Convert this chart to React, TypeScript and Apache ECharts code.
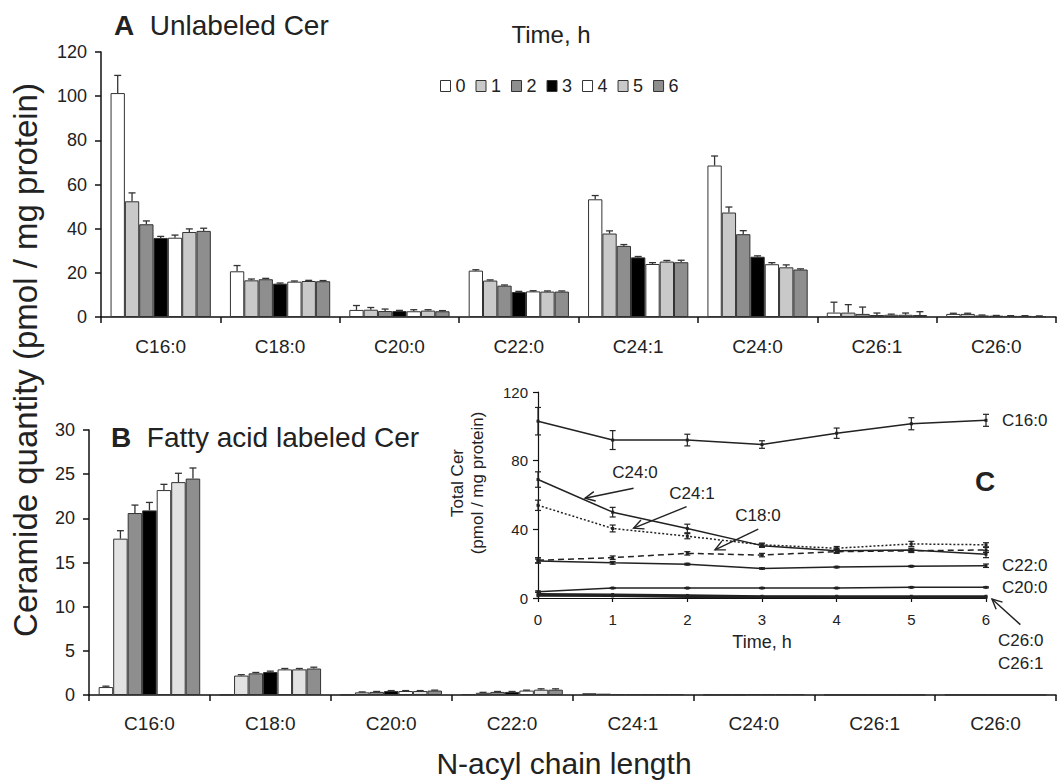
import React, { useEffect, useRef } from "react";
import * as echarts from "echarts";

const FONT = "'Liberation Sans', Arial, sans-serif";

const categories = ["C16:0", "C18:0", "C20:0", "C22:0", "C24:1", "C24:0", "C26:1", "C26:0"];
const timeNames = ["0", "1", "2", "3", "4", "5", "6"];

// Panel A: unlabeled Cer, one array per time point (order = categories)
const unlabeled0 = [101.4, 20.7, 3.2, 21.0, 53.3, 68.6, 2.0, 1.4];
const unlabeled1 = [52.4, 16.6, 3.3, 16.5, 37.8, 47.3, 2.0, 1.4];
const unlabeled2 = [42.0, 17.1, 2.7, 14.2, 32.2, 37.5, 1.4, 0.7];
const unlabeled3 = [35.8, 15.1, 2.7, 11.3, 27.0, 27.3, 0.9, 0.6];
const unlabeled4 = [35.9, 16.0, 2.6, 11.6, 24.0, 23.9, 1.0, 0.5];
const unlabeled5 = [38.5, 16.3, 2.9, 11.5, 25.1, 22.5, 1.0, 0.5];
const unlabeled6 = [39.0, 16.2, 2.6, 11.5, 24.8, 21.5, 0.9, 0.4];
const unlabeledErr0 = [8.0, 2.6, 2.0, 0.4, 1.7, 4.3, 4.7, 0.3];
const unlabeledErr1 = [3.8, 0.6, 1.0, 0.3, 1.2, 2.5, 3.6, 0.3];
const unlabeledErr2 = [1.5, 0.4, 0.9, 0.3, 0.6, 1.6, 3.1, 0.2];
const unlabeledErr3 = [0.7, 0.3, 0.3, 0.3, 0.4, 0.4, 0.9, 0.1];
const unlabeledErr4 = [1.2, 0.3, 0.7, 0.3, 0.6, 0.7, 0.3, 0.1];
const unlabeledErr5 = [1.4, 0.3, 0.4, 0.3, 0.5, 1.1, 0.8, 0.1];
const unlabeledErr6 = [1.2, 0.3, 0.3, 0.3, 0.9, 0.3, 1.5, 0.1];

// Panel B: fatty acid labeled Cer
const labeled0 = [0.9, 0.05, 0.05, 0.1, 0.2, 0.05, 0.03, 0.03];
const labeled1 = [17.7, 2.2, 0.3, 0.25, 0.15, 0.05, 0.03, 0.03];
const labeled2 = [20.6, 2.45, 0.35, 0.35, 0.1, 0.05, 0.03, 0.03];
const labeled3 = [20.9, 2.6, 0.45, 0.35, 0.1, 0.1, 0.03, 0.03];
const labeled4 = [23.2, 2.9, 0.45, 0.5, 0.1, 0.1, 0.03, 0.03];
const labeled5 = [24.1, 2.9, 0.45, 0.6, 0.1, 0.1, 0.03, 0.03];
const labeled6 = [24.5, 3.0, 0.5, 0.6, 0.1, 0.1, 0.03, 0.03];
const labeledErr0 = [0.1, 0, 0, 0, 0, 0, 0, 0];
const labeledErr1 = [0.9, 0.1, 0.05, 0.05, 0, 0, 0, 0];
const labeledErr2 = [0.9, 0.1, 0.05, 0.05, 0, 0, 0, 0];
const labeledErr3 = [0.9, 0.1, 0.05, 0.05, 0, 0, 0, 0];
const labeledErr4 = [0.65, 0.1, 0.05, 0.05, 0, 0, 0, 0];
const labeledErr5 = [1.0, 0.1, 0.05, 0.1, 0, 0, 0, 0];
const labeledErr6 = [1.2, 0.15, 0.05, 0.1, 0, 0, 0, 0];

// Panel C: total Cer vs time
const hours = [0, 1, 2, 3, 4, 5, 6];
const totalC16 = [103, 92, 92, 89.4, 96, 101.5, 103.5];
const totalC16Err = [8, 5.5, 3.4, 2.2, 3, 3.5, 3.5];
const totalC24_0 = [69, 50, 40.5, 30.5, 27.5, 28, 25.5];
const totalC24_0Err = [4.5, 2.8, 2.5, 1, 1, 1, 2];
const totalC24_1 = [54, 40.5, 36, 31, 29, 31.5, 31];
const totalC24_1Err = [3, 2, 1.5, 1, 1, 1.5, 1.2];
const totalC18 = [22, 23.5, 26, 25, 27, 27.5, 28];
const totalC18Err = [1.5, 1, 1, 1, 1, 1, 1.5];
const totalC22 = [21.5, 20.5, 19.7, 17.2, 18, 18.5, 18.8];
const totalC22Err = [1.2, 0.8, 0.5, 0.4, 0.4, 0.4, 1];
const totalC20 = [3.7, 5.8, 5.8, 5.8, 5.8, 6.2, 6.2];
const totalC20Err = [0.4, 0.3, 0.3, 0.3, 0.3, 0.3, 0.3];
const totalC26_1 = [2.3, 2.0, 1.5, 1.0, 1.0, 1.0, 1.0];
const totalC26_0 = [1.3, 1.2, 0.7, 0.6, 0.5, 0.5, 0.4];

// Annotation arrows in panel C data space: [fromX, fromY, toX, toY]
const arrowC24_0 = [1.28, 63.9, 0.63, 58.1];
const arrowC24_1 = [1.99, 53.2, 1.28, 40.7];
const arrowC18 = [2.95, 40.1, 2.37, 28.1];
const arrowC26 = [6.46, -15.5, 6.08, -0.6];

const unlabeled = [unlabeled0, unlabeled1, unlabeled2, unlabeled3, unlabeled4, unlabeled5, unlabeled6];
const unlabeledErr = [unlabeledErr0, unlabeledErr1, unlabeledErr2, unlabeledErr3, unlabeledErr4, unlabeledErr5, unlabeledErr6];
const labeled = [labeled0, labeled1, labeled2, labeled3, labeled4, labeled5, labeled6];
const labeledErr = [labeledErr0, labeledErr1, labeledErr2, labeledErr3, labeledErr4, labeledErr5, labeledErr6];

const colorsA = ["#ffffff", "#c9c9c9", "#8e8e8e", "#000000", "#ffffff", "#c9c9c9", "#8e8e8e"];
const colorsB = ["#ffffff", "#e2e2e2", "#8e8e8e", "#000000", "#ffffff", "#e2e2e2", "#8e8e8e"];
const GAP = 0.16;
const INK = "#222";

function barErrRender(params: any, api: any) {
  const c = api.value(0);
  const s = api.value(1);
  const v = api.value(2);
  const e = api.value(3);
  if (!e) return null;
  const band = api.size([1, 0])[0];
  const bw = (band * (1 - GAP)) / 7;
  const p0 = api.coord([c, v]);
  const p1 = api.coord([c, v + e]);
  const x = p0[0] + (s - 3) * bw;
  const st = { stroke: "#333", lineWidth: 1.3 };
  return {
    type: "group",
    children: [
      { type: "line", shape: { x1: x, y1: p0[1], x2: x, y2: p1[1] }, style: st },
      { type: "line", shape: { x1: x - 3.5, y1: p1[1], x2: x + 3.5, y2: p1[1] }, style: st },
    ],
  };
}

function lineErrRender(params: any, api: any) {
  const t = api.value(0);
  const v = api.value(1);
  const e = api.value(2);
  const lo = api.coord([t, Math.max(0, v - e)]);
  const hi = api.coord([t, v + e]);
  const st = { stroke: "#222", lineWidth: 1.2 };
  return {
    type: "group",
    children: [
      { type: "line", shape: { x1: lo[0], y1: lo[1], x2: hi[0], y2: hi[1] }, style: st },
      { type: "line", shape: { x1: lo[0] - 3, y1: lo[1], x2: lo[0] + 3, y2: lo[1] }, style: st },
      { type: "line", shape: { x1: hi[0] - 3, y1: hi[1], x2: hi[0] + 3, y2: hi[1] }, style: st },
    ],
  };
}

function arrowRender(params: any, api: any) {
  const a = api.coord([api.value(0), api.value(1)]);
  const b = api.coord([api.value(2), api.value(3)]);
  const ang = Math.atan2(a[1] - b[1], a[0] - b[0]);
  const L = 11;
  const d = 0.45;
  const h1 = [b[0] + L * Math.cos(ang + d), b[1] + L * Math.sin(ang + d)];
  const h2 = [b[0] + L * Math.cos(ang - d), b[1] + L * Math.sin(ang - d)];
  const st = { stroke: "#222", lineWidth: 1.4, fill: "none" };
  return {
    type: "group",
    children: [
      { type: "line", shape: { x1: a[0], y1: a[1], x2: b[0], y2: b[1] }, style: st },
      { type: "polyline", shape: { points: [h1, b, h2] }, style: st },
    ],
  };
}

export default function App() {
  const ref = useRef<HTMLDivElement>(null);
  useEffect(() => {
    if (!ref.current) return;
    document.body.style.margin = "0";
    const chart = echarts.init(ref.current, null, { renderer: "svg" });

    const axisLineStyle = { color: "#111", width: 1.5 };
    const series: any[] = [];

    timeNames.forEach((name, s) => {
      series.push({
        name,
        type: "bar",
        xAxisIndex: 0,
        yAxisIndex: 0,
        data: unlabeled[s],
        barGap: "0%",
        barCategoryGap: GAP * 100 + "%",
        itemStyle: { color: colorsA[s], borderColor: "#333", borderWidth: 1 },
      });
    });
    timeNames.forEach((name, s) => {
      series.push({
        name: "B" + name,
        type: "bar",
        xAxisIndex: 1,
        yAxisIndex: 1,
        data: labeled[s],
        barGap: "0%",
        barCategoryGap: GAP * 100 + "%",
        itemStyle: { color: colorsB[s], borderColor: "#333", borderWidth: 1 },
      });
    });

    const errA: number[][] = [];
    const errB: number[][] = [];
    for (let s = 0; s < 7; s++) {
      for (let c = 0; c < categories.length; c++) {
        errA.push([c, s, unlabeled[s][c], unlabeledErr[s][c]]);
        errB.push([c, s, labeled[s][c], labeledErr[s][c]]);
      }
    }
    series.push({ type: "custom", xAxisIndex: 0, yAxisIndex: 0, z: 10, silent: true, renderItem: barErrRender, data: errA });
    series.push({ type: "custom", xAxisIndex: 1, yAxisIndex: 1, z: 10, silent: true, renderItem: barErrRender, data: errB });

    const lineDefs = [
      { name: "C16:0", data: totalC16, err: totalC16Err, type: "solid", end: true },
      { name: "C24:0", data: totalC24_0, err: totalC24_0Err, type: "solid", end: false },
      { name: "C24:1", data: totalC24_1, err: totalC24_1Err, type: [2, 2], end: false },
      { name: "C18:0", data: totalC18, err: totalC18Err, type: [6, 4], end: false },
      { name: "C22:0", data: totalC22, err: totalC22Err, type: "solid", end: true },
      { name: "C20:0", data: totalC20, err: totalC20Err, type: "solid", end: true },
      { name: "C26:1", data: totalC26_1, err: null, type: "solid", end: false },
      { name: "C26:0", data: totalC26_0, err: null, type: "solid", end: false },
    ];
    lineDefs.forEach((d) => {
      series.push({
        name: d.name,
        type: "line",
        xAxisIndex: 2,
        yAxisIndex: 2,
        data: hours.map((h, i) => [h, d.data[i]]),
        symbol: "rect",
        symbolSize: 3,
        itemStyle: { color: "#222" },
        lineStyle: { color: "#222", width: d.name.startsWith("C26") ? 2.2 : 1.5, type: d.type },
        endLabel: d.end
          ? { show: true, formatter: "{a}", distance: 16, fontSize: 17, color: INK, fontFamily: FONT }
          : { show: false },
        z: 5,
      });
      if (d.err) {
        series.push({
          type: "custom",
          xAxisIndex: 2,
          yAxisIndex: 2,
          silent: true,
          z: 6,
          renderItem: lineErrRender,
          data: hours.map((h, i) => [h, d.data[i], d.err![i]]),
        });
      }
    });
    series.push({
      type: "custom",
      xAxisIndex: 2,
      yAxisIndex: 2,
      silent: true,
      z: 7,
      renderItem: arrowRender,
      data: [arrowC24_0, arrowC24_1, arrowC18, arrowC26],
    });

    const catAxis = (grid: number, margin: number) => ({
      type: "category",
      gridIndex: grid,
      data: categories,
      axisLine: { lineStyle: axisLineStyle },
      axisTick: { show: true, length: 6, lineStyle: axisLineStyle },
      axisLabel: { margin, fontSize: 19, color: INK, fontFamily: FONT },
    });
    const valAxis = (grid: number, max: number, interval: number) => ({
      type: "value",
      gridIndex: grid,
      min: 0,
      max,
      interval,
      axisLine: { show: true, lineStyle: axisLineStyle },
      axisTick: { show: true, length: 6, lineStyle: axisLineStyle },
      splitLine: { show: false },
      axisLabel: { margin: 14, fontSize: 18, color: INK, fontFamily: FONT },
    });

    const text = (x: number, y: number, t: string, extra: any = {}) => ({
      type: "text",
      x,
      y,
      silent: true,
      style: { text: t, fill: INK, fontFamily: FONT, fontSize: 18, ...extra },
    });

    chart.setOption({
      animation: false,
      backgroundColor: "#ffffff",
      textStyle: { fontFamily: FONT },
      grid: [
        { left: 101, top: 52, width: 955, height: 265 },
        { left: 89, top: 430, width: 967, height: 265 },
        { left: 538, top: 392, width: 448, height: 206 },
      ],
      legend: {
        data: timeNames,
        left: 440,
        top: 77,
        padding: 0,
        itemWidth: 10,
        itemHeight: 11,
        itemGap: 10,
        icon: "rect",
        itemStyle: { borderColor: "#333", borderWidth: 1 },
        textStyle: { fontSize: 18, color: INK, fontFamily: FONT },
      },
      xAxis: [
        catAxis(0, 20),
        catAxis(1, 19),
        {
          type: "value",
          gridIndex: 2,
          min: 0,
          max: 6,
          interval: 1,
          axisLine: { lineStyle: { color: "#111", width: 1.2 } },
          axisTick: { show: true, length: 4, lineStyle: { color: "#111", width: 1.2 } },
          splitLine: { show: false },
          axisLabel: { margin: 14, fontSize: 15, color: INK, fontFamily: FONT },
        },
      ],
      yAxis: [
        valAxis(0, 120, 20),
        valAxis(1, 30, 5),
        {
          type: "value",
          gridIndex: 2,
          min: 0,
          max: 120,
          interval: 40,
          axisLine: { show: true, lineStyle: { color: "#111", width: 1.2 } },
          axisTick: { show: true, length: 5, lineStyle: { color: "#111", width: 1.2 } },
          splitLine: { show: false },
          axisLabel: { margin: 10, fontSize: 15, color: INK, fontFamily: FONT },
        },
      ],
      series,
      graphic: [
        text(114, 25, "{b|A}  Unlabeled Cer", {
          fontSize: 28,
          verticalAlign: "middle",
          rich: { b: { fontWeight: "bold", fontSize: 28, fontFamily: FONT, fill: INK } },
        }),
        text(111, 437, "{b|B}  Fatty acid labeled Cer", {
          fontSize: 28,
          verticalAlign: "middle",
          rich: { b: { fontWeight: "bold", fontSize: 28, fontFamily: FONT, fill: INK } },
        }),
        text(551, 34, "Time, h", { fontSize: 24, align: "center", verticalAlign: "middle" }),
        {
          type: "text",
          x: 25,
          y: 360,
          rotation: Math.PI / 2,
          silent: true,
          style: {
            text: "Ceramide quantity (pmol / mg protein)",
            fill: INK,
            fontFamily: FONT,
            fontSize: 33,
            align: "center",
            verticalAlign: "middle",
          },
        },
        text(564, 763, "N-acyl chain length", { fontSize: 30, align: "center", verticalAlign: "middle" }),
        {
          type: "text",
          x: 467,
          y: 483,
          rotation: Math.PI / 2,
          silent: true,
          style: {
            text: "Total Cer\n(pmol / mg protein)",
            fill: INK,
            fontFamily: FONT,
            fontSize: 17,
            lineHeight: 20,
            align: "center",
            verticalAlign: "middle",
          },
        },
        text(762, 642, "Time, h", { fontSize: 18, align: "center", verticalAlign: "middle" }),
        text(985, 481, "C", { fontSize: 28, fontWeight: "bold", align: "center", verticalAlign: "middle" }),
        text(635, 472, "C24:0", { fontSize: 17, align: "center", verticalAlign: "middle" }),
        text(692, 493, "C24:1", { fontSize: 17, align: "center", verticalAlign: "middle" }),
        text(758, 515, "C18:0", { fontSize: 17, align: "center", verticalAlign: "middle" }),
        text(998, 640, "C26:0", { fontSize: 17, verticalAlign: "middle" }),
        text(998, 663, "C26:1", { fontSize: 17, verticalAlign: "middle" }),
      ],
    });
    return () => chart.dispose();
  }, []);
  return <div ref={ref} style={{ position: "absolute", left: 0, top: 0, width: 1058, height: 780 }} />;
}
